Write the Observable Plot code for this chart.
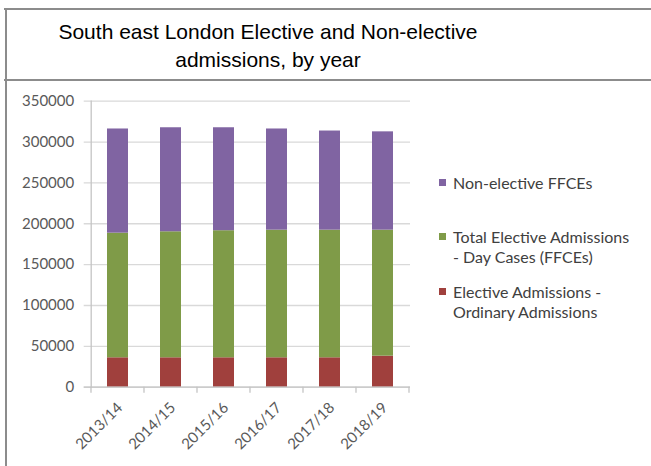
<!DOCTYPE html>
<html><head><meta charset="utf-8">
<script src="https://cdn.jsdelivr.net/npm/d3@7"></script>
<script src="https://cdn.jsdelivr.net/npm/@observablehq/plot@0.6"></script>
<style>
body{margin:0;background:#fff;}
#wrap{position:relative;width:651px;height:466px;overflow:hidden;background:#fff;}
#topline{position:absolute;left:4px;top:8px;width:700px;height:0;border-top:2px solid #8c8c8c;}
#leftline{position:absolute;left:5px;top:8px;width:0;height:470px;border-left:2px solid #8c8c8c;}
#titleline{position:absolute;left:4px;top:79px;width:700px;height:0;border-top:2px solid #8c8c8c;}
#title{position:absolute;left:5px;top:18px;width:526px;text-align:center;font:21px "Liberation Sans",Arial,sans-serif;line-height:28px;color:#000;}
#chart{position:absolute;left:0;top:82px;}
#legend{position:absolute;left:0;top:0;font:16px Lato,sans-serif;color:#404040;}
.item{position:absolute;left:439px;white-space:nowrap;line-height:20px;}
.sw{position:absolute;left:0;top:6px;width:7px;height:7px;}
.txt{position:absolute;left:14px;top:0;}
</style>
</head><body>
<div id="wrap">
  <div id="topline"></div>
  <div id="leftline"></div>
  <div id="titleline"></div>
  <div id="title">South east London Elective and Non-elective<br>admissions, by year</div>
  <div id="chart"></div>
  <div id="legend"></div>
</div>
<script>
const years = ["2013/14", "2014/15", "2015/16", "2016/17", "2017/18", "2018/19"];
const ordinary = [36000, 36000, 36000, 36000, 36000, 38000];
const dayCases = [152500, 154200, 155500, 156200, 156200, 154200];
const nonElective = [127500, 127300, 126000, 123800, 121300, 120300];
const seriesNames = [
  "Elective Admissions - Ordinary Admissions",
  "Total Elective Admissions - Day Cases (FFCEs)",
  "Non-elective FFCEs"
];
const legendLines = [
  ["Non-elective FFCEs"],
  ["Total Elective Admissions", "- Day Cases (FFCEs)"],
  ["Elective Admissions -", "Ordinary Admissions"]
];
const colors = ["#a0403d", "#7f9b48", "#8064a2"];
const yTicks = [0, 50000, 100000, 150000, 200000, 250000, 300000, 350000];

const values = [ordinary, dayCases, nonElective];
const rows = years.flatMap((yr, i) => seriesNames.map((s, k) => ({year: yr, series: s, value: values[k][i]})));

const plot = Plot.plot({
  width: 651,
  height: 384,
  marginLeft: 90.7,
  marginRight: 241,
  marginTop: 18.7,
  marginBottom: 79.3,
  x: {domain: years, paddingInner: 0.595, paddingOuter: 0.2975, label: null},
  y: {domain: [0, 350000], label: null},
  color: {domain: seriesNames, range: colors},
  style: {fontFamily: "Lato, sans-serif", fontSize: "15px", color: "#595959", background: "transparent"},
  marks: [
    Plot.ruleY(yTicks, {stroke: "#d9d9d9", strokeWidth: 1.3, insetLeft: -7}),
    Plot.barY(rows, {x: "year", y: "value", fill: "series"}),
    Plot.frame({anchor: "left", stroke: "#c4c4c4", strokeWidth: 1.3}),
    Plot.ruleY([0], {stroke: "#c4c4c4", strokeWidth: 1.3, insetLeft: -7}),
    Plot.axisY(yTicks, {tickSize: 0, tickPadding: 17, tickFormat: d => String(d), fill: "#595959", label: null}),
    Plot.axisX({tickSize: 0, tickRotate: -45, tickPadding: 8, dx: 2, dy: 10, fill: "#595959", label: null})
  ]
});

// boundary tick marks on the category axis, from the library's scales
const xs = plot.scale("x");
const ys = plot.scale("y");
const y0 = ys.apply(0);
const gap = xs.step - xs.bandwidth;
const bounds = years.map(yr => xs.apply(yr) - gap / 2);
bounds.push(xs.apply(years[years.length - 1]) + xs.bandwidth + gap / 2);
const svg = d3.select(plot);
svg.append("g").selectAll("line").data(bounds).join("line")
  .attr("x1", d => d).attr("x2", d => d)
  .attr("y1", y0).attr("y2", y0 + 6)
  .attr("stroke", "#c4c4c4").attr("stroke-width", 1.3);

document.getElementById("chart").appendChild(plot);

// legend
const legendTops = [173, 227, 282];
const order = [2, 1, 0];
const leg = document.getElementById("legend");
legendLines.forEach((lines, j) => {
  const it = document.createElement("div");
  it.className = "item";
  it.style.top = legendTops[j] + "px";
  const sw = document.createElement("div");
  sw.className = "sw";
  sw.style.background = colors[order[j]];
  it.appendChild(sw);
  const tx = document.createElement("div");
  tx.className = "txt";
  tx.innerHTML = lines.join("<br>");
  it.appendChild(tx);
  leg.appendChild(it);
});
</script>
</body></html>
